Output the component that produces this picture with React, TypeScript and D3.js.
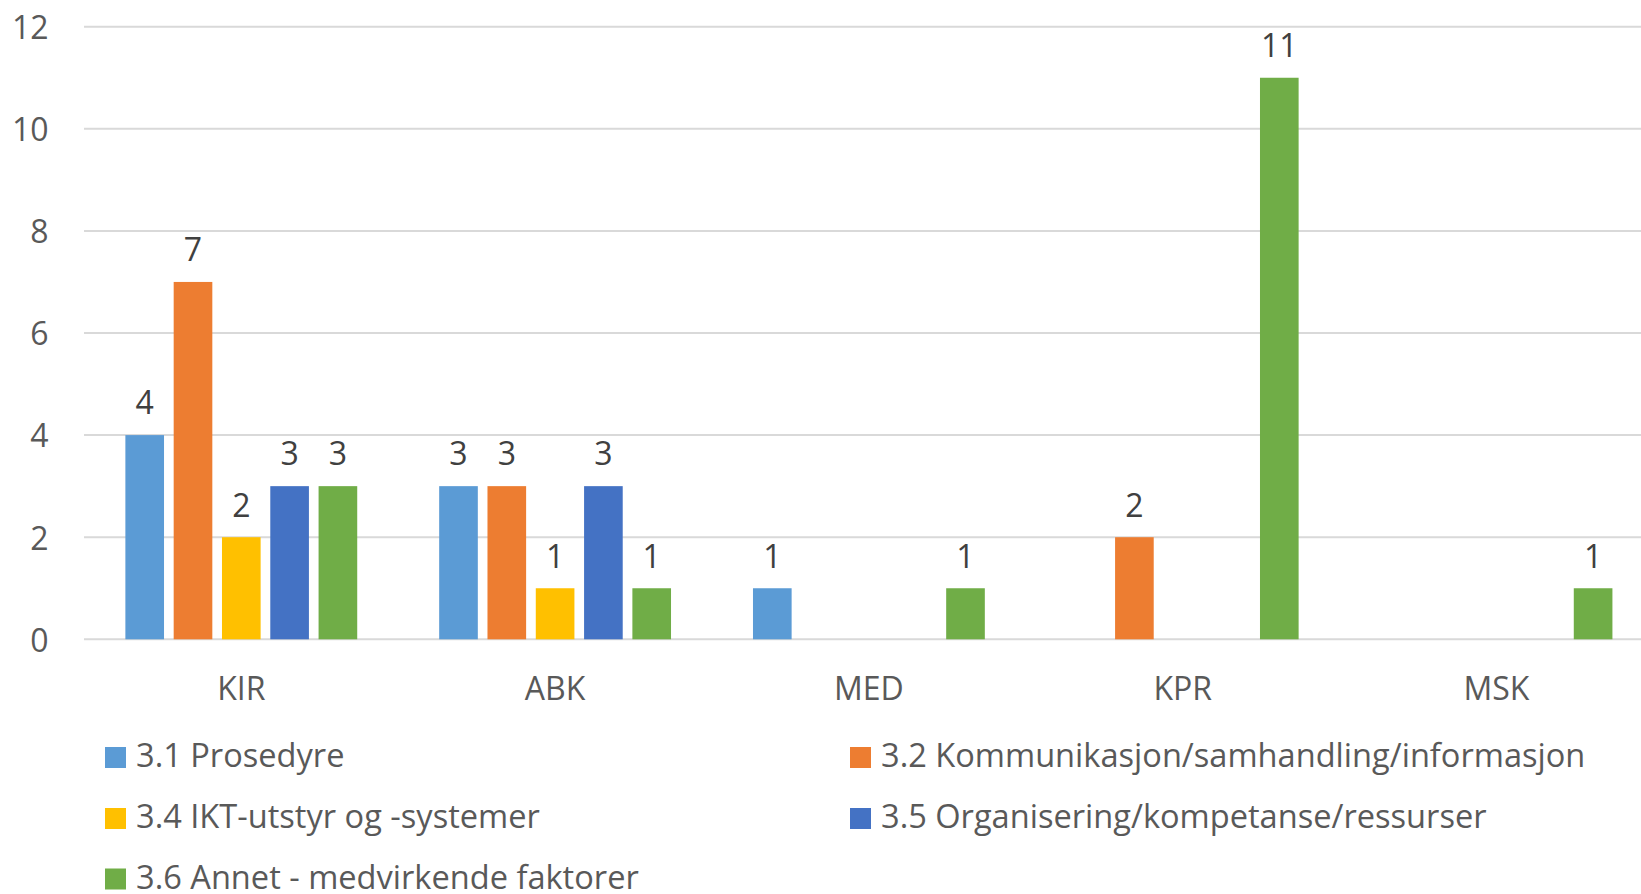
import React from "react";
import * as d3 from "d3";

const categories = ["KIR", "ABK", "MED", "KPR", "MSK"];
const seriesNames = [
  "3.1 Prosedyre",
  "3.2 Kommunikasjon/samhandling/informasjon",
  "3.4 IKT-utstyr og -systemer",
  "3.5 Organisering/kompetanse/ressurser",
  "3.6 Annet - medvirkende faktorer",
];
const prosedyre: (number | null)[] = [4, 3, 1, null, null];
const kommunikasjon: (number | null)[] = [7, 3, null, 2, null];
const ikt: (number | null)[] = [2, 1, null, null, null];
const organisering: (number | null)[] = [3, 3, null, null, null];
const annet: (number | null)[] = [3, 1, 1, 11, 1];
const yTicks = [0, 2, 4, 6, 8, 10, 12];
const colors = ["#5B9BD5", "#ED7D31", "#FFC000", "#4472C4", "#70AD47"];

const seriesValues = [prosedyre, kommunikasjon, ikt, organisering, annet];

const W = 1641;
const H = 894;
const FONT = "'Open Sans', sans-serif";
const FS = 32;
const LEGEND_FS = 32.6;

export default function App() {
  const x0 = d3.scaleBand<string>().domain(categories).range([84.4, 1653.4]).padding(0);
  const half = 120.75;
  const x1 = d3
    .scaleBand<string>()
    .domain(seriesNames)
    .range([x0.bandwidth() / 2 - half, x0.bandwidth() / 2 + half])
    .paddingInner(0.2)
    .paddingOuter(0.1);
  const y = d3.scaleLinear().domain([0, 12]).range([639.3, 26.7]);

  const legendPos = [
    { x: 105, y: 767 },
    { x: 850, y: 767 },
    { x: 105, y: 828 },
    { x: 850, y: 828 },
    { x: 105, y: 888.5 },
  ];

  return (
    <svg
      width={W}
      height={H}
      style={{ position: "absolute", left: 0, top: 0, background: "#fff" }}
      fontFamily={FONT}
    >
      <rect x={0} y={0} width={W} height={H} fill="#fff" />
      {yTicks.map((t) => (
        <g key={t}>
          <line x1={84} x2={W} y1={y(t)} y2={y(t)} stroke="#d9d9d9" strokeWidth={2} />
          <text x={48.5} y={y(t) + 12.3} textAnchor="end" fontSize={FS} fill="#595959">
            {t}
          </text>
        </g>
      ))}
      {categories.map((c, ci) => (
        <g key={c} transform={`translate(${x0(c)},0)`}>
          {seriesNames.map((s, si) => {
            const v = seriesValues[si][ci];
            if (v == null) return null;
            const bx = x1(s)!;
            return (
              <g key={s}>
                <rect
                  x={bx}
                  y={y(v)}
                  width={x1.bandwidth()}
                  height={y(0) - y(v)}
                  fill={colors[si]}
                />
                <text
                  x={bx + x1.bandwidth() / 2}
                  y={y(v) - 20.7}
                  textAnchor="middle"
                  fontSize={FS}
                  fill="#404040"
                >
                  {v}
                </text>
              </g>
            );
          })}
          <text x={x0.bandwidth() / 2} y={700} textAnchor="middle" fontSize={FS} fill="#595959">
            {c}
          </text>
        </g>
      ))}
      {seriesNames.map((s, i) => (
        <g key={s}>
          <rect x={legendPos[i].x} y={legendPos[i].y - 20} width={21} height={21} fill={colors[i]} />
          <text x={legendPos[i].x + 31} y={legendPos[i].y} fontSize={LEGEND_FS} fill="#595959">
            {s}
          </text>
        </g>
      ))}
    </svg>
  );
}
